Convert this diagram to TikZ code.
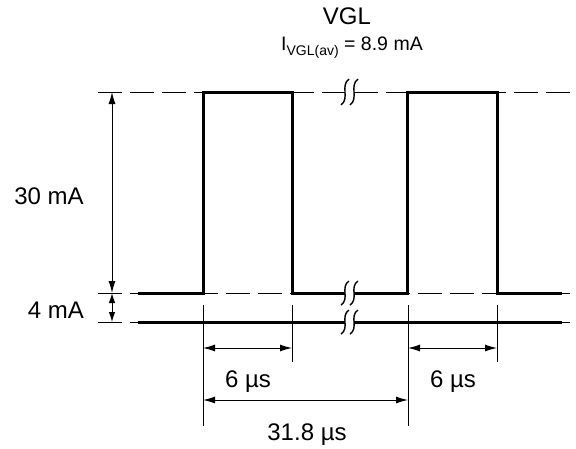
\documentclass[tikz,border=0pt]{standalone}
\usepackage{fontspec}
\setmainfont{Liberation Sans}
\usetikzlibrary{arrows.meta}
\begin{document}
\begin{tikzpicture}[x=1pt,y=-1pt,
  thinln/.style={line width=1pt},
  thickln/.style={line width=3pt, line join=miter},
  dashln/.style={line width=1pt, dash pattern=on 24pt off 8pt},
  dimln/.style={line width=1pt, {Latex[length=12pt,width=7pt]}-{Latex[length=12pt,width=7pt]}},
  smalldim/.style={line width=1pt, {Latex[length=10pt,width=6.5pt]}-{Latex[length=10pt,width=6.5pt]}},
  lbl/.style={font=\fontsize{24}{28}\selectfont, inner sep=0pt, anchor=base},
  brk/.pic={
    \fill[white] (-4.5,-2.2) rectangle (4.5,2.2);
    \draw[line width=1.4pt] (-0.5,-#1) .. controls (-9.5,-#1/2) and (0.5,#1/2) .. (-8.5,#1);
    \draw[line width=1.4pt] (8.5,-#1) .. controls (-0.5,-#1/2) and (9.5,#1/2) .. (0.5,#1);
  }
]
\useasboundingbox (0,0) rectangle (576,448);

% reference coordinates
\coordinate (TL) at (98,92);   \coordinate (TR) at (572,92);
\coordinate (ML) at (98,293);  \coordinate (MR) at (572,293);
\coordinate (BL) at (98,322);  \coordinate (BR) at (572,322);

% dashed guide lines
\draw[dashln] (TL) -- (TR);
\draw[dashln] (ML) -- (MR);
\draw[dashln] (BL) -- (BR);

% waveform
\coordinate (w0) at (138,293);
\coordinate (r1b) at (203,293); \coordinate (r1t) at (203,92);
\coordinate (f1t) at (292,92);  \coordinate (f1b) at (292,293);
\coordinate (r2b) at (407,293); \coordinate (r2t) at (407,92);
\coordinate (f2t) at (497,92);  \coordinate (f2b) at (497,293);
\coordinate (w9) at (562,293);
\draw[thickln] (w0) -- (r1b) -- (r1t) -- (f1t) -- (f1b) -- (r2b) -- (r2t) -- (f2t) -- (f2b) -- (w9);

% bottom (4 mA) level
\coordinate (b0) at (138,322); \coordinate (b9) at (562,322);
\draw[thickln] (b0) -- (b9);

% breaks
\pic at (349.5,92) {brk=13};
\pic at (349.5,293) {brk=12};
\pic at (349.5,322) {brk=12};

% extension lines
\coordinate (e1a) at (203,305); \coordinate (e1b) at (203,426);
\coordinate (e2a) at (292,305); \coordinate (e2b) at (292,362);
\coordinate (e3a) at (408,305); \coordinate (e3b) at (408,426);
\coordinate (e4a) at (497,305); \coordinate (e4b) at (497,362);
\draw[thinln] (e1a) -- (e1b);
\draw[thinln] (e2a) -- (e2b);
\draw[thinln] (e3a) -- (e3b);
\draw[thinln] (e4a) -- (e4b);

% horizontal dimensions
\coordinate (d1a) at (203,348); \coordinate (d1b) at (292,348);
\coordinate (d2a) at (408,348); \coordinate (d2b) at (497,348);
\coordinate (d3a) at (203,400); \coordinate (d3b) at (408,400);
\draw[dimln] (d1a) -- (d1b);
\draw[dimln] (d2a) -- (d2b);
\draw[dimln] (d3a) -- (d3b);

% vertical dimensions
\coordinate (v1) at (112,92); \coordinate (v2) at (112,293); \coordinate (v3) at (112,322);
\draw[dimln] (v1) -- (v2);
\draw[smalldim] (v2) -- (v3);

% labels
\node[lbl] (l30) at (49,204) {30 mA};
\node[lbl] (l4) at (56,318) {4 mA};
\node[lbl] (l6a) at (248,387) {6 µs};
\node[lbl] (l6b) at (453,387) {6 µs};
\node[lbl] (l318) at (307,440) {31.8 µs};
\node[lbl] (lvgl) at (347,24) {VGL};
\node[inner sep=0pt, anchor=base, font=\fontsize{19.5}{23}\selectfont] (lav) at (352,50)
  {I\raisebox{-5pt}{\fontsize{14}{16}\selectfont VGL(av)} = 8.9 mA};
\end{tikzpicture}
\end{document}
